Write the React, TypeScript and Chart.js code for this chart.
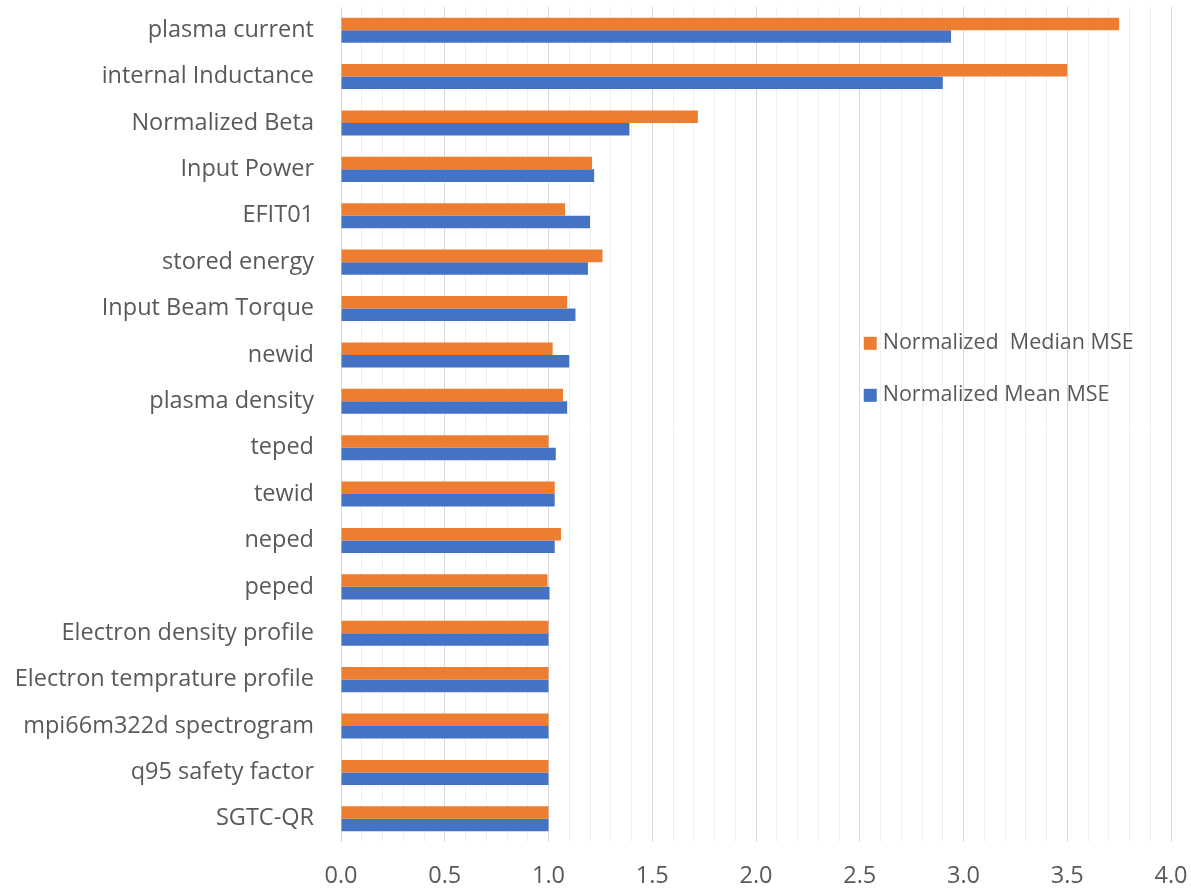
import React, { useEffect, useRef } from "react";
import { Chart, registerables } from "chart.js";

Chart.register(...registerables);

const categories = [
  "plasma current",
  "internal Inductance",
  "Normalized Beta",
  "Input Power",
  "EFIT01",
  "stored energy",
  "Input Beam Torque",
  "newid",
  "plasma density",
  "teped",
  "tewid",
  "neped",
  "peped",
  "Electron density profile",
  "Electron temprature profile",
  "mpi66m322d spectrogram",
  "q95 safety factor",
  "SGTC-QR",
];

const medianMSE = [3.75, 3.5, 1.72, 1.21, 1.08, 1.26, 1.09, 1.02, 1.07, 1.0, 1.03, 1.06, 0.995, 1.0, 1.0, 1.0, 1.0, 1.0];
const meanMSE = [2.94, 2.9, 1.39, 1.22, 1.2, 1.19, 1.13, 1.1, 1.09, 1.035, 1.03, 1.03, 1.005, 1.0, 1.0, 1.0, 1.0, 1.0];

const seriesLabels = ["Normalized  Median MSE", "Normalized Mean MSE"];
const seriesColors = ["#ED7D31", "#4472C4"];

const FONT = "'Open Sans', sans-serif";
const TEXT_COLOR = "#595959";

const legendPlugin = {
  id: "insideLegend",
  afterDatasetsDraw(chart: any) {
    const ctx = chart.ctx as CanvasRenderingContext2D;
    const xs = chart.scales.x;
    const ys = chart.scales.y;
    const left = xs.getPixelForValue(2.5) + 4;
    const top0 = ys.getPixelForValue(6.75);
    ctx.save();
    ctx.font = `21.5px ${FONT}`;
    ctx.textBaseline = "middle";
    chart.data.datasets.forEach((ds: any, i: number) => {
      const cy = top0 + i * 52;
      ctx.fillStyle = ds.backgroundColor;
      ctx.fillRect(left, cy - 6.5, 13, 13);
      ctx.fillStyle = TEXT_COLOR;
      ctx.fillText(ds.label, left + 19, cy);
    });
    ctx.restore();
  },
};

export default function App() {
  const ref = useRef<HTMLCanvasElement | null>(null);
  useEffect(() => {
    if (!ref.current) return;
    const chart = new Chart(ref.current, {
      type: "bar",
      data: {
        labels: categories,
        datasets: [
          { label: seriesLabels[0], data: medianMSE, backgroundColor: seriesColors[0], borderWidth: 0 },
          { label: seriesLabels[1], data: meanMSE, backgroundColor: seriesColors[1], borderWidth: 0 },
        ],
      },
      options: {
        indexAxis: "y",
        animation: false,
        responsive: false,
        maintainAspectRatio: false,
        layout: { padding: { top: 7, right: 20, left: 0, bottom: 0 } },
        datasets: { bar: { categoryPercentage: 0.54, barPercentage: 1.0 } },
        plugins: { legend: { display: false }, tooltip: { enabled: false } },
        scales: {
          x: {
            min: 0,
            max: 4,
            border: { display: false },
            afterFit(scale: any) {
              scale.height = 48;
              scale.paddingLeft = 0;
              scale.paddingRight = 0;
            },
            ticks: {
              stepSize: 0.1,
              autoSkip: false,
              maxRotation: 0,
              minRotation: 0,
              padding: 20,
              color: TEXT_COLOR,
              font: { family: FONT, size: 23.5 },
              callback: (v: any) => {
                const n = Number(v);
                const r = Math.round(n * 10);
                return r % 5 === 0 ? (r / 10).toFixed(1) : "";
              },
            },
            grid: {
              drawTicks: false,
              lineWidth: 1,
              color: (c: any) => {
                const r = Math.round(Number(c.tick?.value) * 10);
                return r % 5 === 0 ? "#D9D9D9" : "#F0F0F0";
              },
            },
          },
          y: {
            border: { display: false },
            afterFit(scale: any) {
              scale.width = 341;
              scale.paddingTop = 0;
              scale.paddingBottom = 0;
            },
            grid: { display: false, drawTicks: false },
            ticks: {
              padding: 27,
              color: TEXT_COLOR,
              font: { family: FONT, size: 23.5 },
              autoSkip: false,
            },
          },
        },
      },
      plugins: [legendPlugin],
    });
    return () => chart.destroy();
  }, []);
  return (
    <div style={{ position: "fixed", left: 0, top: 0, width: 1191, height: 890, background: "#fff" }}>
      <canvas ref={ref} width={1191} height={890} style={{ width: 1191, height: 890 }} />
    </div>
  );
}
